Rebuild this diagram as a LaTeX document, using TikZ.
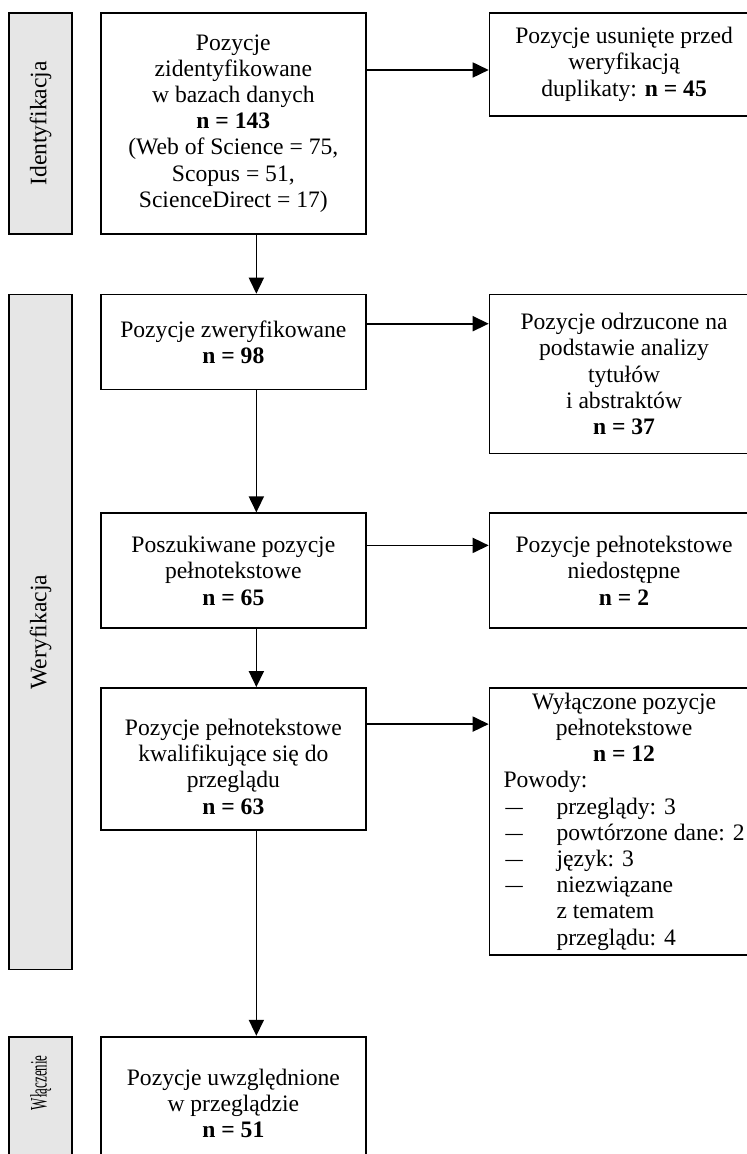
\documentclass[tikz,border=0pt]{standalone}
\usepackage{fontspec}
\setmainfont{Liberation Serif}
\usetikzlibrary{arrows.meta,positioning}
\definecolor{phasegray}{RGB}{230,230,230}
\newcommand{\sidetext}[1]{\hspace*{7pt}\parbox{120.5pt}{\centering #1}\hspace*{2pt}}
\newcommand{\reason}[1]{\makebox[26.5pt][l]{\hspace{1pt}\scalebox{1.45}[1]{–}}#1}
\begin{document}
\begin{tikzpicture}[x=1pt, y=1pt, line width=0.85pt, >={Triangle[length=8pt,width=7.5pt]},
  every node/.style={font=\fontsize{11.8}{13.1}\selectfont, inner ysep=2pt},
  mainbox/.style={draw, align=center, minimum width=132.5pt, inner xsep=0pt},
  sidebox/.style={draw, minimum width=129.5pt, inner xsep=0pt},
  phase/.style={draw, fill=phasegray, minimum width=31.5pt, inner sep=0pt}]
\useasboundingbox (0,0) rectangle (373,-577);
% main column
\node[mainbox, minimum height=110.5pt, anchor=north west] (ident) at (50,-6)
  {Pozycje\\zidentyfikowane\\w bazach danych\\\textbf{n = 143}\\(Web of Science = 75,\\Scopus = 51,\\ScienceDirect = 17)};
\node[mainbox, minimum height=47.5pt, below=29.5pt of ident] (screen)
  {Pozycje zweryfikowane\\\textbf{n = 98}};
\node[mainbox, minimum height=57.5pt, below=61pt of screen] (sought)
  {Poszukiwane pozycje\\pełnotekstowe\\\textbf{n = 65}};
\node[mainbox, minimum height=71pt, below=29pt of sought] (eligible)
  {\rule{0pt}{16pt}Pozycje pełnotekstowe\\kwalifikujące się do\\przeglądu\\\textbf{n = 63}};
\node[mainbox, minimum height=67pt, below=102.5pt of eligible] (included)
  {Pozycje uwzględnione\\w przeglądzie\\\textbf{n = 51}};
% side column
\node[sidebox, minimum height=51.5pt, right=61pt of ident.north east, anchor=north west] (dupl)
  {\sidetext{Pozycje usunięte przed\\weryfikacją\\duplikaty: \textbf{n = 45}}};
\node[sidebox, minimum height=79.5pt, right=61pt of screen.north east, anchor=north west] (rejected)
  {\sidetext{Pozycje odrzucone na\\podstawie analizy\\tytułów\\i abstraktów\\\textbf{n = 37}}};
\node[sidebox, minimum height=57.5pt, right=61pt of sought.north east, anchor=north west] (missing)
  {\sidetext{Pozycje pełnotekstowe\\niedostępne\\\textbf{n = 2}}};
\node[sidebox, minimum height=133.5pt, right=61pt of eligible.north east, anchor=north west] (excluded)
  {\sidetext{Wyłączone pozycje\\pełnotekstowe\\\textbf{n = 12}\par
   \raggedright Powody:\\
   \reason{przeglądy: 3}\\
   \reason{powtórzone dane: 2}\\
   \reason{język: 3}\\
   \reason{niezwiązane}\\
   \hspace*{26.5pt}z tematem\\
   \hspace*{26.5pt}przeglądu: 4}};
% phase bars
\node[phase, minimum height=110.5pt, left=13.5pt of ident.north west, anchor=north east] (idbar)
  {\rotatebox{90}{Identyfikacja}};
\node[phase, minimum height=337.5pt, left=13.5pt of screen.north west, anchor=north east] (verbar)
  {\rotatebox{90}{Weryfikacja}};
\node[phase, minimum height=67pt, left=13.5pt of included.north west, anchor=north east] (incbar)
  {\rotatebox{90}{\hspace*{21pt}\scalebox{0.55}[1]{Włączenie}}};
% arrows
\draw[->] ([xshift=11.5pt]ident.south) -- ([xshift=11.5pt]screen.north);
\draw[->] ([xshift=11.5pt]screen.south) -- ([xshift=11.5pt]sought.north);
\draw[->] ([xshift=11.5pt]sought.south) -- ([xshift=11.5pt]eligible.north);
\draw[->] ([xshift=11.5pt]eligible.south) -- ([xshift=11.5pt]included.north);
\draw[->] ([yshift=-29pt]ident.north east) -- ([yshift=-29pt]dupl.north west);
\draw[->] ([yshift=-15pt]screen.north east) -- ([yshift=-15pt]rejected.north west);
\draw[->] ([yshift=-16.5pt]sought.north east) -- ([yshift=-16.5pt]missing.north west);
\draw[->] ([yshift=-18.5pt]eligible.north east) -- ([yshift=-18.5pt]excluded.north west);
\end{tikzpicture}
\end{document}
